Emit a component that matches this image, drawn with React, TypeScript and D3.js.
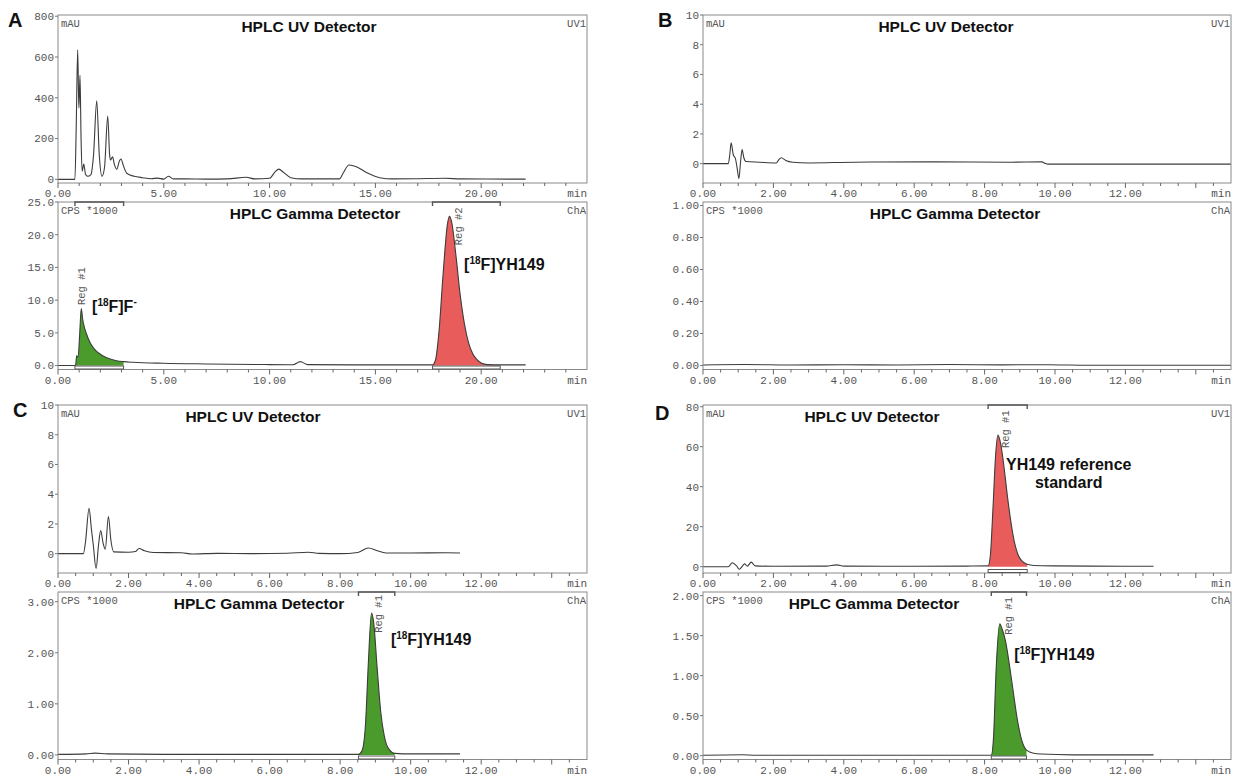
import * as d3 from "d3";

type Pt = [number, number];

// chromatogram traces, [time in min, signal]
const uvA: Pt[] = [[0, 0], [0.8, 0], [0.86, 250], [0.93, 635], [0.97, 420], [0.99, 350], [1.04, 510], [1.09, 200], [1.14, 40], [1.22, 75], [1.3, 25], [1.4, 15], [1.55, 22], [1.68, 120], [1.83, 385], [1.95, 120], [2.08, 15], [2.2, 60], [2.35, 310], [2.44, 120], [2.48, 95], [2.58, 110], [2.66, 75], [2.78, 50], [2.9, 90], [2.98, 100], [3.08, 70], [3.25, 30], [3.6, 15], [4.0, 8], [4.4, 3], [4.7, 6], [5.0, 1], [5.22, 15], [5.45, 2], [6, 2], [7, 1], [8, 2], [8.9, 10], [9.3, 2], [10.0, 5], [10.25, 35], [10.43, 50], [10.65, 35], [11.0, 8], [11.5, 2], [13.3, 2], [13.5, 35], [13.75, 70], [14.1, 62], [14.6, 32], [15.2, 8], [15.8, 2], [17, 3], [18.3, 5], [19, 2], [22.1, 1]];
const gammaA: Pt[] = [[0, 0], [0.8, 0], [0.84, 0.2], [0.88, 1.5], [0.95, 1.3], [1.02, 4.5], [1.1, 8.7], [1.17, 7.0], [1.25, 5.8], [1.34, 4.9], [1.5, 3.6], [1.7, 2.6], [1.97, 1.8], [2.3, 1.2], [2.76, 0.75], [3.1, 0.6], [3.55, 0.5], [5, 0.35], [7, 0.25], [10, 0.15], [11.1, 0.12], [11.45, 0.6], [11.8, 0.15], [15, 0.1], [17.7, 0.1], [17.85, 1], [18.0, 5], [18.2, 14], [18.4, 21.5], [18.5, 22.8], [18.6, 22], [18.8, 17], [19.0, 11], [19.2, 6.5], [19.4, 3.5], [19.6, 1.8], [19.8, 0.9], [20.0, 0.4], [20.3, 0.15], [20.9, 0.1], [22.1, 0.1]];
const uvB: Pt[] = [[0, 0], [0.72, 0], [0.76, 0.6], [0.8, 1.4], [0.86, 0.6], [0.92, 0.35], [0.97, -0.3], [1.02, -1.0], [1.07, 0.2], [1.11, 0.95], [1.16, 0.4], [1.22, 0.15], [1.6, 0.1], [2.08, 0.05], [2.15, 0.25], [2.22, 0.4], [2.35, 0.22], [2.55, 0.1], [3.0, 0.05], [4.3, 0.1], [6.5, 0.12], [8.75, 0.1], [9.63, 0.12], [9.72, 0.02], [9.8, -0.03], [15, -0.03]];
const gammaB: Pt[] = [[0, 0.003], [1.2, 0.006], [2.5, 0.003], [4, 0.005], [5.5, 0.003], [7, 0.006], [8.5, 0.004], [9.8, 0.005], [11, 0.002], [15, 0.002]];
const uvC: Pt[] = [[0, 0], [0.72, 0], [0.78, 0.8], [0.88, 3.05], [0.95, 1.6], [1.0, 0.6], [1.08, -1.0], [1.15, 0.6], [1.21, 1.55], [1.28, 0.7], [1.34, 0.3], [1.43, 2.5], [1.5, 0.9], [1.58, 0.12], [2.0, 0.1], [2.2, 0.15], [2.3, 0.35], [2.45, 0.2], [2.7, 0.08], [3.5, 0.06], [3.8, -0.02], [4.5, 0.02], [5.5, 0.0], [6.5, 0.03], [7.1, 0.1], [7.4, 0.02], [8.0, 0.0], [8.5, 0.08], [8.8, 0.38], [9.05, 0.2], [9.3, 0.05], [10, 0.05], [11, 0.06], [11.4, 0.05]];
const gammaC: Pt[] = [[0, 0.01], [0.8, 0.02], [1.05, 0.035], [1.4, 0.02], [3, 0.01], [6, 0.01], [8.52, 0.01], [8.62, 0.08], [8.72, 0.6], [8.8, 1.8], [8.89, 2.78], [8.95, 2.6], [9.05, 1.7], [9.15, 0.85], [9.25, 0.38], [9.35, 0.15], [9.55, 0.03], [10, 0.02], [11.4, 0.02]];
const uvD: Pt[] = [[0, 0], [0.72, 0], [0.83, 2], [0.95, 0.5], [1.03, -1.3], [1.12, 0.3], [1.18, 1.4], [1.26, 0.3], [1.37, 2.3], [1.48, 0.4], [2, 0.2], [3.5, 0.3], [3.8, 0.9], [4.0, 0.3], [6, 0.2], [7.5, 0.3], [8.1, 0.4], [8.16, 5], [8.24, 30], [8.31, 55], [8.38, 65.8], [8.45, 62], [8.55, 50], [8.65, 35], [8.75, 22], [8.85, 12], [8.95, 6], [9.05, 3], [9.21, 1.2], [9.4, 0.6], [10, 0.4], [11, 0.3], [12.8, 0.2]];
const gammaD: Pt[] = [[0, 0.005], [1.1, 0.012], [1.5, 0.006], [4, 0.005], [8.19, 0.005], [8.25, 0.2], [8.33, 1.1], [8.43, 1.65], [8.5, 1.58], [8.6, 1.42], [8.71, 1.12], [8.82, 0.78], [8.93, 0.45], [9.05, 0.2], [9.19, 0.07], [9.4, 0.03], [9.6, 0.02], [10.5, 0.01], [12.8, 0.01]];

// tick values
const yTicksUvA = [0, 200, 400, 600, 800];
const yTicksGammaA = [0, 5, 10, 15, 20, 25];
const yTicksUvBC = [0, 2, 4, 6, 8, 10];
const yTicksGammaB = [0, 0.2, 0.4, 0.6, 0.8, 1.0];
const yTicksGammaC = [0, 1, 2, 3];
const yTicksUvD = [0, 20, 40, 60, 80];
const yTicksGammaD = [0, 0.5, 1, 1.5, 2];

const GREEN = "#4a9a2c";
const RED = "#e85c5c";
const MONO = "'Liberation Mono', 'DejaVu Sans Mono', monospace";
const SANS = "'Liberation Sans', Arial, sans-serif";

const cols = [{ left: 58, right: 587 }, { left: 703, right: 1231 }];
const rowOffset = [0, 390];

type Region = { from: number; to: number; color: string; label: string; at: Pt };
type Note = { at: Pt; main: string; iso?: boolean; tail?: string; anchor?: string };

type ChartDef = {
  data: Pt[];
  yDomain: [number, number];
  yTicks: number[];
  digits: number;
  titleX: number;
  regions?: Region[];
  notes?: Note[];
};

type PanelDef = {
  letter: string;
  col: number;
  row: number;
  letterX: number;
  letterY: number;
  xMax: number;
  xMajor: number;
  xMinor: number;
  uv: ChartDef;
  gamma: ChartDef;
};

const panels: PanelDef[] = [
  {
    letter: "A", col: 0, row: 0, letterX: 8, letterY: 27, xMax: 25, xMajor: 5, xMinor: 1,
    uv: { data: uvA, yDomain: [-18, 806], yTicks: yTicksUvA, digits: 0, titleX: 309 },
    gamma: {
      data: gammaA, yDomain: [-0.6, 25], yTicks: yTicksGammaA, digits: 1, titleX: 315,
      regions: [
        { from: 0.8, to: 3.1, color: GREEN, label: "Reg #1", at: [1.11, 9.25] },
        { from: 17.7, to: 20.9, color: RED, label: "Reg #2", at: [18.91, 18.4] },
      ],
      notes: [
        { at: [1.61, 8.2], main: "F]F", iso: true, tail: "-" },
        { at: [19.19, 14.6], main: "F]YH149", iso: true },
      ],
    },
  },
  {
    letter: "B", col: 1, row: 0, letterX: 658, letterY: 27, xMax: 15, xMajor: 2, xMinor: 0.5,
    uv: { data: uvB, yDomain: [-1.3, 10], yTicks: yTicksUvBC, digits: 0, titleX: 946 },
    gamma: { data: gammaB, yDomain: [-0.025, 1.022], yTicks: yTicksGammaB, digits: 2, titleX: 955 },
  },
  {
    letter: "C", col: 0, row: 1, letterX: 13, letterY: 417, xMax: 15, xMajor: 2, xMinor: 0.5,
    uv: { data: uvC, yDomain: [-1.3, 10], yTicks: yTicksUvBC, digits: 0, titleX: 253 },
    gamma: {
      data: gammaC, yDomain: [-0.09, 3.19], yTicks: yTicksGammaC, digits: 2, titleX: 259,
      regions: [{ from: 8.52, to: 9.55, color: GREEN, label: "Reg #1", at: [9.08, 2.39] }],
      notes: [{ at: [9.44, 2.15], main: "F]YH149", iso: true }],
    },
  },
  {
    letter: "D", col: 1, row: 1, letterX: 655, letterY: 420, xMax: 15, xMajor: 2, xMinor: 0.5,
    uv: {
      data: uvD, yDomain: [-3.15, 80.85], yTicks: yTicksUvD, digits: 0, titleX: 872,
      regions: [{ from: 8.1, to: 9.21, color: RED, label: "Reg #1", at: [8.6, 59.3] }],
      notes: [
        { at: [10.39, 48.3], main: "YH149 reference", anchor: "middle" },
        { at: [10.39, 39.2], main: "standard", anchor: "middle" },
      ],
    },
    gamma: {
      data: gammaD, yDomain: [-0.048, 2.046], yTicks: yTicksGammaD, digits: 2, titleX: 874,
      regions: [{ from: 8.19, to: 9.19, color: GREEN, label: "Reg #1", at: [8.66, 1.51] }],
      notes: [{ at: [8.84, 1.2], main: "F]YH149", iso: true }],
    },
  },
];

function Chart({ def, left, right, top, bottom, xMax, xMajor, xMinor, title, unit, channel }: {
  def: ChartDef; left: number; right: number; top: number; bottom: number;
  xMax: number; xMajor: number; xMinor: number; title: string; unit: string; channel: string;
}) {
  const x = d3.scaleLinear().domain([0, xMax]).range([left, right]);
  const y = d3.scaleLinear().domain(def.yDomain).range([bottom, top]);
  const line = d3.line<Pt>().x(d => x(d[0])).y(d => y(d[1])).curve(d3.curveMonotoneX);
  const area = d3.area<Pt>().x(d => x(d[0])).y0(y(0)).y1(d => y(d[1])).curve(d3.curveMonotoneX);
  const ticks = d3.range(0, xMax - 1e-6, xMinor);
  const isMajor = (t: number) => Math.abs(t / xMajor - Math.round(t / xMajor)) < 1e-6;

  return (
    <g>
      {(def.regions || []).map((r, i) => (
        <path key={"f" + i} d={area(def.data.filter(d => d[0] >= r.from && d[0] <= r.to)) || ""} fill={r.color} />
      ))}
      <path d={line(def.data) || ""} fill="none" stroke="#3c3c3c" strokeWidth={1.1} />
      <rect x={left} y={top} width={right - left} height={bottom - top} fill="none" stroke="#8a8a8a" strokeWidth={1} />
      {def.yTicks.map(v => (
        <g key={v}>
          <line x1={left - 3} x2={left} y1={y(v)} y2={y(v)} stroke="#777" />
          <text x={left - 4} y={y(v)} dy="0.35em" textAnchor="end" fontFamily={MONO} fontSize={11} fill="#555">
            {v.toFixed(def.digits)}
          </text>
        </g>
      ))}
      {ticks.map(t => (
        <line key={t} x1={x(t)} x2={x(t)} y1={bottom} y2={bottom + (isMajor(t) ? 5 : 3)} stroke="#666" />
      ))}
      {ticks.filter(t => isMajor(t) && t <= xMax - xMajor + 1e-6).map(t => (
        <text key={"l" + t} x={x(t)} y={bottom + 14} textAnchor="middle" fontFamily={MONO} fontSize={11} fill="#555">
          {t.toFixed(2)}
        </text>
      ))}
      <text x={right} y={bottom + 14} textAnchor="end" fontFamily={MONO} fontSize={11} fill="#555">min</text>
      <text x={left + 3} y={top + 12} fontFamily={MONO} fontSize={10.5} fill="#555">{unit}</text>
      <text x={right - 1} y={top + 12} textAnchor="end" fontFamily={MONO} fontSize={10.5} fill="#555">{channel}</text>
      <text x={def.titleX} y={top + 17} textAnchor="middle" fontFamily={SANS} fontWeight="bold" fontSize={15.5} fill="#111">
        {title}
      </text>
      {(def.regions || []).map((r, i) => (
        <g key={"r" + i} stroke="#555" fill="none">
          <path d={`M${x(r.from)},${top + 4}V${top}H${x(r.to)}V${top + 4}`} strokeWidth={1.4} />
          <rect x={x(r.from)} y={bottom - 3.5} width={x(r.to) - x(r.from)} height={3} fill="#fff" strokeWidth={1} />
          <text transform={`translate(${x(r.at[0])},${y(r.at[1])}) rotate(-90)`} dy="0.35em" fontFamily={MONO}
            fontSize={10.5} fill="#555" stroke="none">
            {r.label}
          </text>
        </g>
      ))}
      {(def.notes || []).map((n, i) => (
        <text key={"n" + i} x={x(n.at[0])} y={y(n.at[1])} textAnchor={n.anchor || "start"} fontFamily={SANS}
          fontWeight="bold" fontSize={16} fill="#111">
          {n.iso ? (
            <>
              <tspan>[</tspan>
              <tspan fontSize={10} dy={-6}>18</tspan>
              <tspan dy={6}>{n.main}</tspan>
              {n.tail ? <tspan fontSize={10} dy={-7}>{n.tail}</tspan> : null}
            </>
          ) : n.main}
        </text>
      ))}
    </g>
  );
}

export default function App() {
  return (
    <svg width={1233} height={775} style={{ position: "absolute", left: 0, top: 0, background: "#fff" }}>
      <rect width={1233} height={775} fill="#fff" />
      {panels.map(p => {
        const { left, right } = cols[p.col];
        const off = rowOffset[p.row];
        return (
          <g key={p.letter}>
            <text x={p.letterX} y={p.letterY} fontFamily={SANS} fontWeight="bold" fontSize={20} fill="#111">{p.letter}</text>
            <Chart def={p.uv} left={left} right={right} top={off + 15} bottom={off + 183}
              xMax={p.xMax} xMajor={p.xMajor} xMinor={p.xMinor} title="HPLC UV Detector" unit="mAU" channel="UV1" />
            <Chart def={p.gamma} left={left} right={right} top={off + 202} bottom={off + 369.5}
              xMax={p.xMax} xMajor={p.xMajor} xMinor={p.xMinor} title="HPLC Gamma Detector" unit="CPS *1000" channel="ChA" />
          </g>
        );
      })}
    </svg>
  );
}
